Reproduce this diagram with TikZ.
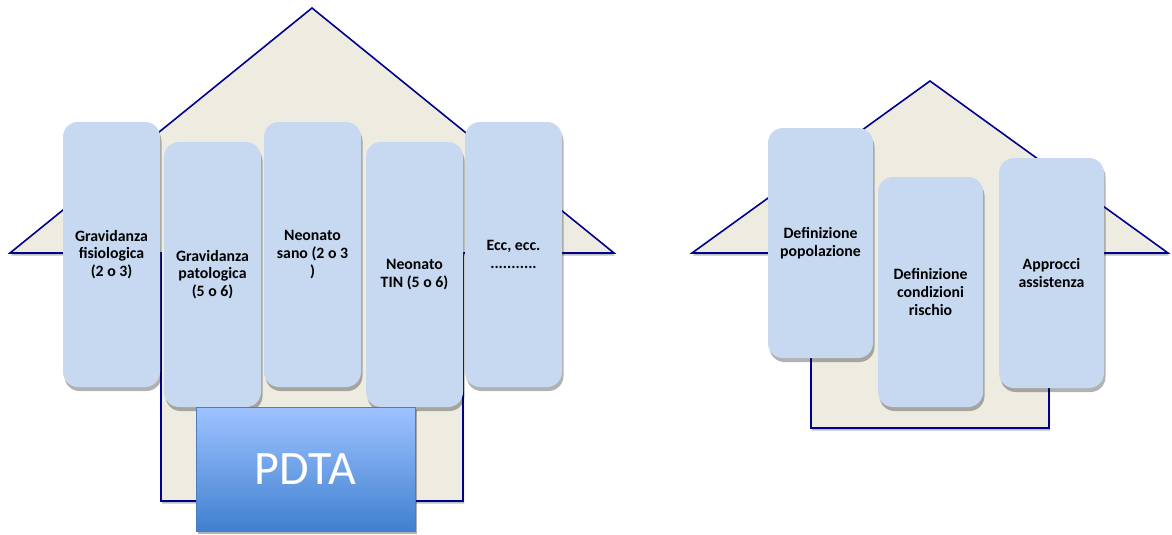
\documentclass[tikz,border=0pt]{standalone}
\usepackage{fontspec}
\setmainfont{Carlito}
\usetikzlibrary{shadows}
\definecolor{roof}{HTML}{EEECE1}
\definecolor{navy}{HTML}{00008E}
\definecolor{boxfill}{HTML}{C6D9F1}
\definecolor{pdtatop}{HTML}{9EC3FF}
\definecolor{pdtabot}{HTML}{4080D0}
\definecolor{pdtaline}{HTML}{4A7EBB}
\tikzset{
  house/.style={fill=roof, draw=navy, line width=1.6pt, line join=miter,
    drop shadow={shadow xshift=1pt, shadow yshift=-2.5pt, opacity=0.25, fill=black}},
  pillar/.style={rectangle, rounded corners=15pt, fill=boxfill, draw=none,
    inner sep=0pt, align=center, text=black,
    font=\fontsize{15.8}{17.6}\selectfont\bfseries,
    drop shadow={shadow xshift=1.5pt, shadow yshift=-4pt, opacity=0.3, fill=black}},
  lpillar/.style={pillar, minimum width=97pt, minimum height=265pt},
  rpillar/.style={pillar, minimum width=105pt, minimum height=230pt},
  pdtabox/.style={rectangle, inner sep=0pt, minimum width=219pt, minimum height=124pt,
    top color=pdtatop, bottom color=pdtabot, draw=pdtaline, line width=1pt,
    text=white, font=\fontsize{48}{54}\selectfont,
    drop shadow={shadow xshift=1.5pt, shadow yshift=-3pt, opacity=0.3, fill=black}}
}
\begin{document}
\begin{tikzpicture}[x=1pt,y=-1pt]
\useasboundingbox (0,0) rectangle (1172,535);
% left house
\path[house] (10,253) -- (312,8) -- (614,253) -- (463,253) -- (463,501) -- (161,501) -- (161,253) -- cycle;
% right house
\path[house] (692,253) -- (930,81) -- (1168,253) -- (1049,253) -- (1049,428) -- (811,428) -- (811,253) -- cycle;
% left pillars
\node[lpillar] (g1) at (111.5,254.5) {Gravidanza\\fisiologica\\(2 o 3)};
\node[lpillar] (g2) at (212.5,274.5) {Gravidanza\\patologica\\(5 o 6)};
\node[lpillar] (n1) at (312.5,254.5) {Neonato\\sano (2 o 3\\)};
\node[lpillar] (n2) at (414.5,274.5) {Neonato\\TIN (5 o 6)};
\node[lpillar] (ecc) at (513.5,254.5) {Ecc, ecc.\\...........};
\node[pdtabox] (pdta) at (305.5,469) {PDTA};
% right pillars
\node[rpillar] (d1) at (820.5,243) {Definizione\\popolazione};
\node[rpillar] (d2) at (930.5,292) {Definizione\\condizioni\\rischio};
\node[rpillar] (a1) at (1051.5,273) {Approcci\\assistenza};
\end{tikzpicture}
\end{document}
